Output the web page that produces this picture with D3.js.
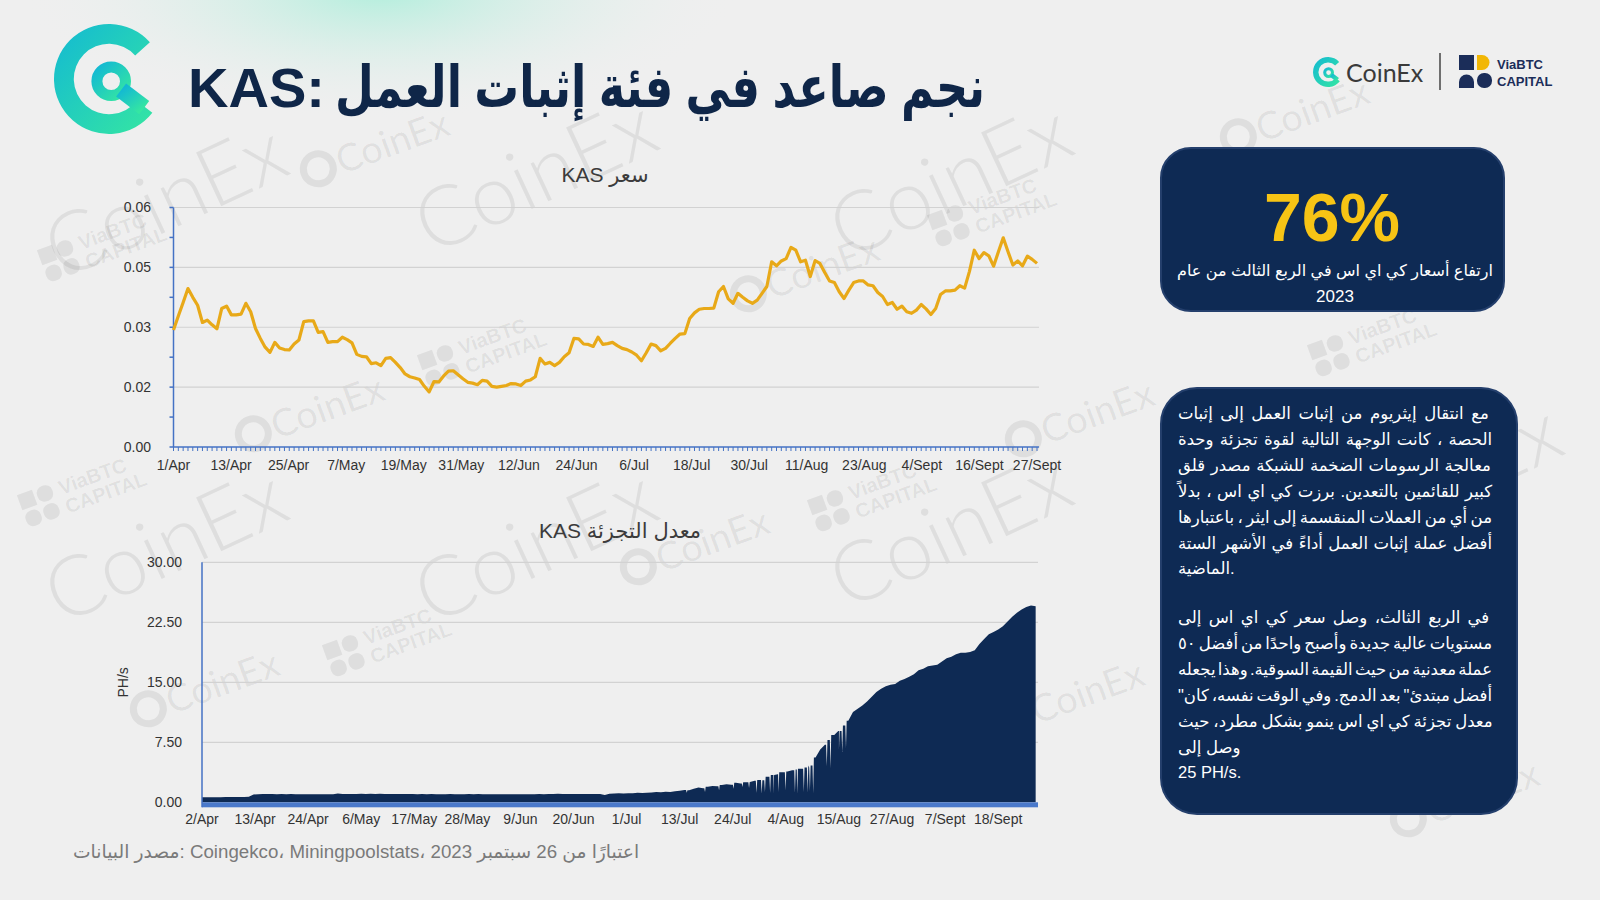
<!DOCTYPE html>
<html>
<head>
<meta charset="utf-8">
<script src="https://cdn.jsdelivr.net/npm/d3@7"></script>
<style>
html,body{margin:0;padding:0;background:#efefef;}
svg{display:block;}
text{font-family:"Liberation Sans",Arial,"DejaVu Sans",sans-serif;}
</style>
</head>
<body>
<div id="chart"></div>
<script>
// ---- data ----
var priceLabels = ["1/Apr","13/Apr","25/Apr","7/May","19/May","31/May","12/Jun","24/Jun","6/Jul","18/Jul","30/Jul","11/Aug","23/Aug","4/Sept","16/Sept","27/Sept"]
var priceTicks = [0, 0.015, 0.03, 0.045, 0.06]
var priceTickLabels = ["0.00","0.02","0.03","0.05","0.06"]
// KAS price, daily, 1/Apr .. 27/Sept
var kasPrice = [
	0.0293,0.0328,0.0362,0.0397,0.0375,0.0355,0.0312,0.0318,0.0306,0.0296,
	0.0347,0.0353,0.0331,0.0331,0.0333,0.0360,0.0339,0.0297,0.0272,0.0250,
	0.0237,0.0262,0.0248,0.0244,0.0243,0.0258,0.0268,0.0314,0.0316,0.0316,
	0.0287,0.0289,0.0262,0.0264,0.0264,0.0275,0.0269,0.0261,0.0232,0.0227,
	0.0226,0.0209,0.0211,0.0204,0.0222,0.0224,0.0212,0.0199,0.0183,0.0176,
	0.0173,0.0169,0.0152,0.0138,0.0164,0.0163,0.0178,0.0190,0.0191,0.0181,
	0.0171,0.0162,0.0160,0.0156,0.0167,0.0165,0.0152,0.0150,0.0152,0.0154,
	0.0159,0.0158,0.0154,0.0165,0.0168,0.0176,0.0222,0.0208,0.0212,0.0204,
	0.0212,0.0226,0.0236,0.0272,0.0271,0.0258,0.0257,0.0252,0.0275,0.0257,
	0.0259,0.0262,0.0254,0.0247,0.0244,0.0238,0.0230,0.0216,0.0236,0.0258,
	0.0254,0.0241,0.0247,0.0260,0.0272,0.0283,0.0284,0.0322,0.0336,0.0345,
	0.0347,0.0347,0.0348,0.0389,0.0402,0.0371,0.0360,0.0385,0.0375,0.0366,
	0.0360,0.0368,0.0385,0.0402,0.0464,0.0454,0.0466,0.0472,0.0500,0.0493,
	0.0464,0.0468,0.0427,0.0467,0.0460,0.0437,0.0416,0.0412,0.0389,0.0372,
	0.0393,0.0412,0.0416,0.0416,0.0406,0.0404,0.0387,0.0377,0.0357,0.0362,
	0.0345,0.0353,0.0339,0.0335,0.0343,0.0357,0.0346,0.0332,0.0347,0.0382,
	0.0391,0.0391,0.0393,0.0404,0.0398,0.0440,0.0493,0.0472,0.0487,0.0479,
	0.0453,0.0489,0.0524,0.0489,0.0456,0.0466,0.0454,0.0478,0.0470,0.0460
]

var hashLabels = ["2/Apr","13/Apr","24/Apr","6/May","17/May","28/May","9/Jun","20/Jun","1/Jul","13/Jul","24/Jul","4/Aug","15/Aug","27/Aug","7/Sept","18/Sept"]
var hashTicks = [0, 7.5, 15, 22.5, 30]
// KAS hashrate (PH/s), daily top of the area, from 2/Apr
var hashRate = [
	0.62,0.63,0.63,0.64,0.64,0.65,0.65,0.66,0.66,0.67,0.68,
	0.98,1.02,1.03,1.03,1.04,1.02,1.03,1.02,1.03,1.02,
	1.02,1.01,1.02,1.00,1.01,1.00,1.00,1.01,1.10,1.04,
	1.05,1.04,1.05,1.06,1.05,1.06,1.05,1.06,1.05,1.04,
	1.05,1.04,1.03,1.04,1.03,1.02,1.03,1.02,1.03,1.02,
	1.01,1.02,1.03,1.02,1.01,1.02,1.03,1.02,1.03,1.02,
	1.02,1.01,1.02,1.01,1.02,1.01,1.00,1.01,1.02,1.01,
	1.02,1.03,1.02,1.04,1.05,1.06,1.05,1.04,1.03,1.04,
	1.05,1.04,1.03,1.04,1.03,0.92,1.08,1.10,1.12,1.10,
	1.12,1.14,1.18,1.16,1.20,1.22,1.28,1.25,1.32,1.30,
	1.38,1.45,1.55,1.50,1.70,1.85,1.75,1.95,2.05,2.00,
	2.15,2.25,2.20,2.45,2.35,2.50,2.55,2.70,2.80,2.75,
	3.20,3.40,3.50,3.75,3.85,4.00,4.10,4.20,4.35,4.60,
	5.60,6.60,7.20,7.80,8.40,8.90,9.60,10.20,11.30,11.70,
	12.10,12.60,13.20,13.80,14.20,14.50,14.70,14.80,15.20,15.40,
	15.70,16.00,16.50,16.70,17.00,17.10,17.20,17.60,18.00,18.20,
	18.50,18.70,18.70,18.80,19.00,19.80,20.40,21.00,21.30,21.60,
	22.00,22.60,23.20,23.70,24.10,24.40,24.60,24.50
]
// short drops in the hashrate (day offset from 2/Apr, PH/s)
var hashDips = [
	[103.5,1.2],[107.4,1.3],[110.4,1.5],[113.5,1.7],[115.4,1.9],[116.8,1.8],
	[118.4,1.2],[119.5,1.1],[120.2,1.3],[121.3,1.2],[122.0,1.1],[123.1,1.3],
	[124.6,1.5],[126.6,1.2],[127.1,1.1],[128.5,1.3],[129.3,1.2],[129.8,1.4],
	[130.5,1.1],[133.4,4.5],[134.2,4.3],[136.0,6.6],[136.7,6.3],[137.5,6.8]
]

var bodyLines1 = [
	"مع انتقال إيثريوم من إثبات العمل  إلى إثبات",
	"الحصة ، كانت الوجهة التالية لقوة تجزئة وحدة",
	"معالجة الرسومات الضخمة للشبكة  مصدر قلق",
	"كبير للقائمين بالتعدين. برزت كي اي اس ، بدلاً",
	"من أي من العملات المنقسمة إلى ايثر ، باعتبارها",
	"أفضل عملة إثبات العمل أداءً في الأشهر الستة",
	"الماضية."
]
var bodyLines2 = [
	"في الربع الثالث، وصل سعر كي اي اس  إلى",
	"مستويات عالية جديدة وأصبح واحدًا من أفضل ٥٠",
	"عملة معدنية من حيث القيمة السوقية. وهذا يجعله",
	"\"أفضل مبتدئ\" بعد الدمج. وفي الوقت نفسه، كان",
	"معدل تجزئة كي اي اس  ينمو بشكل مطرد، حيث",
	"وصل إلى",
	"25 PH/s."
]

var W = 1600, H = 900
var NAVY = "#0e2a54", AXIS = "#4472c4", GRID = "#d2d2d2", GOLD = "#e8a918"

var svg = d3.select("#chart").append("svg")
	.attr("width", W)
	.attr("height", H)

var defs = svg.append("defs")
var glow = defs.append("radialGradient").attr("id","glow")
	.attr("cx","50%").attr("cy","50%").attr("r","50%")
glow.append("stop").attr("offset","0%").attr("stop-color","#aeeedb").attr("stop-opacity",0.95)
glow.append("stop").attr("offset","100%").attr("stop-color","#efefef").attr("stop-opacity",0)
var logoGrad = defs.append("linearGradient").attr("id","logoGrad")
	.attr("x1","0%").attr("y1","0%").attr("x2","100%").attr("y2","100%")
logoGrad.append("stop").attr("offset","0%").attr("stop-color","#13b9d3")
logoGrad.append("stop").attr("offset","100%").attr("stop-color","#35e6a2")

// background
svg.append("rect").attr("width",W).attr("height",H).attr("fill","#efefef")
svg.append("ellipse").attr("cx",380).attr("cy",-10).attr("rx",360).attr("ry",130).attr("fill","url(#glow)")

// watermarks
var bigMarks = [[165,200],[535,175],[950,180],[165,545],[535,545],[950,530],[1440,480]]
var smallMarks = [[370,150],[305,415],[690,548],[200,690],[800,275],[1290,118],[1075,420],[1065,700],[1460,800]]
var viaMarks = [[470,355],[90,250],[375,645],[860,500],[980,215],[1360,345],[70,495]]
var wm = svg.append("g").attr("fill","#000").attr("fill-opacity",0.07)
bigMarks.forEach(function(p){
	wm.append("text").attr("transform","translate("+p[0]+","+p[1]+") rotate(-25)")
		.attr("text-anchor","middle").attr("dy","0.35em")
		.style("font-family","Lato, 'Open Sans', sans-serif").style("font-weight",300)
		.style("font-size","84px").text("CoinEx")
})
smallMarks.forEach(function(p){
	var g = wm.append("g").attr("transform","translate("+p[0]+","+p[1]+") rotate(-20)")
	g.append("circle").attr("cx",-55).attr("cy",0).attr("r",15).attr("fill","none")
		.attr("stroke","#000").attr("stroke-opacity",0.07).attr("stroke-width",7)
	g.append("text").attr("x",-35).attr("dy","0.35em")
		.style("font-family","Lato, 'Open Sans', sans-serif").style("font-size","38px").text("CoinEx")
})
viaMarks.forEach(function(p){
	var g = wm.append("g").attr("transform","translate("+p[0]+","+p[1]+") rotate(-20)")
	g.append("rect").attr("x",-50).attr("y",-18).attr("width",16).attr("height",16)
	g.append("rect").attr("x",-31).attr("y",-18).attr("width",16).attr("height",16).attr("rx",7)
	g.append("rect").attr("x",-50).attr("y",1).attr("width",16).attr("height",16).attr("rx",7)
	g.append("rect").attr("x",-31).attr("y",1).attr("width",16).attr("height",16).attr("rx",7)
	g.append("text").attr("x",-8).attr("y",-3).style("font-size","20px").style("font-weight","bold").text("ViaBTC")
	g.append("text").attr("x",-8).attr("y",17).style("font-size","20px").style("font-weight","bold").text("CAPITAL")
})

// CoinEx mark
function coinexLogo(g, r) {
	var arc = d3.arc()
	g.append("path").attr("fill","url(#logoGrad)")
		.attr("d", arc({innerRadius:r*0.64, outerRadius:r, startAngle:128*Math.PI/180, endAngle:408*Math.PI/180}))
	g.append("circle").attr("cx",r*0.04).attr("cy",r*0.04).attr("r",r*0.26)
		.attr("fill","none").attr("stroke","url(#logoGrad)").attr("stroke-width",r*0.2)
	g.append("line").attr("x1",r*0.22).attr("y1",r*0.2).attr("x2",r*0.64).attr("y2",r*0.52)
		.attr("stroke","url(#logoGrad)").attr("stroke-width",r*0.3)
}
coinexLogo(svg.append("g").attr("transform","translate(109,79)"), 55)

// title: latin part, then the Arabic part fitted to the space up to x=985
var titleKas = svg.append("text")
	.attr("x",188).attr("y",107)
	.attr("fill","#0f2648")
	.style("font-size","56px").style("font-weight","bold")
	.text("KAS:")
var kasEnd = 188 + titleKas.node().getComputedTextLength()
var titleAr = svg.append("text")
	.attr("x",0).attr("y",0)
	.attr("fill","#0f2648")
	.style("font-size","58px").style("font-weight","bold")
	.text("نجم صاعد في فئة إثبات العمل")
var arBox = titleAr.node().getBBox()
var arLeft = kasEnd + 10
var arScale = (985 - arLeft)/arBox.width
titleAr.attr("transform","translate("+(arLeft - arBox.x*arScale)+",107) scale("+arScale+",1)")

// top right logos
coinexLogo(svg.append("g").attr("transform","translate(1328,72)"), 15)
svg.append("text").attr("x",1346).attr("y",82).attr("fill","#3a3a3a")
	.style("font-family","Lato, 'Open Sans', sans-serif").style("font-size","25px").text("CoinEx")
svg.append("line").attr("x1",1440).attr("x2",1440).attr("y1",53).attr("y2",90)
	.attr("stroke","#444").attr("stroke-width",1.5)
var via = svg.append("g").attr("transform","translate(1459,55)")
via.append("rect").attr("width",15).attr("height",15).attr("fill","#1b2d59")
via.append("path").attr("d","M18,0 h5 a7.5,7.5 0 0 1 0,15 h-5 Z").attr("fill","#f2b705")
via.append("path").attr("d","M0,33 v-6 a7.5,7.5 0 0 1 15,0 v6 Z").attr("fill","#1b2d59")
via.append("rect").attr("x",18).attr("y",18).attr("width",15).attr("height",15).attr("rx",7).attr("fill","#1b2d59")
svg.append("text").attr("x",1497).attr("y",69).attr("fill","#1b2d59")
	.style("font-size","13px").style("font-weight","bold").text("ViaBTC")
svg.append("text").attr("x",1497).attr("y",86).attr("fill","#1b2d59")
	.style("font-size","13px").style("font-weight","bold").text("CAPITAL")

// ---- price chart ----
var px = d3.scaleLinear().domain([0, kasPrice.length-1]).range([173.5, 1037])
var py = d3.scaleLinear().domain([0, 0.06]).range([447, 207.5])
var pc = svg.append("g")

pc.append("text").attr("x",605).attr("y",182).attr("text-anchor","middle")
	.attr("fill","#3b3b3b").style("font-size","21px").text("KAS سعر")

pc.selectAll(".pgrid").data(priceTicks.slice(1)).enter().append("line")
	.attr("x1",px(0)).attr("x2",1039)
	.attr("y1",function(d){ return py(d) }).attr("y2",function(d){ return py(d) })
	.attr("stroke",GRID).attr("stroke-width",1.2)

pc.selectAll(".plab").data(priceTicks).enter().append("text")
	.attr("x",151).attr("y",function(d){ return py(d) }).attr("dy","0.35em")
	.attr("text-anchor","end").attr("fill","#333").style("font-size","14px")
	.text(function(d,i){ return priceTickLabels[i] })

// minor + major ticks on the left axis
var yTickVals = d3.range(0, 9).map(function(i){ return i*0.0075 })
pc.selectAll(".ptick").data(yTickVals).enter().append("line")
	.attr("x1",px(0)-4).attr("x2",px(0))
	.attr("y1",function(d){ return py(d) }).attr("y2",function(d){ return py(d) })
	.attr("stroke",AXIS).attr("stroke-width",1.5)
pc.append("line").attr("x1",px(0)).attr("x2",px(0)).attr("y1",py(0.06)).attr("y2",py(0))
	.attr("stroke",AXIS).attr("stroke-width",1.5)

// daily ticks on the bottom axis
pc.selectAll(".xtick").data(kasPrice).enter().append("line")
	.attr("x1",function(d,i){ return px(i) }).attr("x2",function(d,i){ return px(i) })
	.attr("y1",py(0)).attr("y2",py(0)+4)
	.attr("stroke",AXIS).attr("stroke-width",1)
pc.append("line").attr("x1",px(0)).attr("x2",1039).attr("y1",py(0)).attr("y2",py(0))
	.attr("stroke",AXIS).attr("stroke-width",1.5)

var labStep = (kasPrice.length-1)/(priceLabels.length-1)
pc.selectAll(".pxl").data(priceLabels).enter().append("text")
	.attr("x",function(d,i){ return px(i*labStep) }).attr("y",470)
	.attr("text-anchor","middle").attr("fill","#333").style("font-size","14px")
	.text(function(d){ return d })

pc.append("path").datum(kasPrice)
	.attr("fill","none").attr("stroke",GOLD).attr("stroke-width",3.2)
	.attr("stroke-linejoin","round")
	.attr("d", d3.line().x(function(d,i){ return px(i) }).y(function(d){ return py(d) }))

// ---- hashrate chart ----
var hx = d3.scaleLinear().domain([0, 178.5]).range([202, 1038])
var hy = d3.scaleLinear().domain([0, 30]).range([802.3, 562.3])
var hc = svg.append("g")

hc.append("text").attr("x",620).attr("y",538).attr("text-anchor","middle")
	.attr("fill","#3b3b3b").style("font-size","21px").text("KAS معدل التجزئة")

hc.selectAll(".hgrid").data(hashTicks.slice(1)).enter().append("line")
	.attr("x1",hx(0)).attr("x2",1038)
	.attr("y1",function(d){ return hy(d) }).attr("y2",function(d){ return hy(d) })
	.attr("stroke",GRID).attr("stroke-width",1.2)

hc.selectAll(".hlab").data(hashTicks).enter().append("text")
	.attr("x",182).attr("y",function(d){ return hy(d) }).attr("dy","0.35em")
	.attr("text-anchor","end").attr("fill","#333").style("font-size","14px")
	.text(function(d){ return d3.format(".2f")(d) })

hc.append("text").attr("transform","translate(128,"+hy(15)+") rotate(-90)")
	.attr("text-anchor","middle").attr("fill","#333").style("font-size","14px").text("PH/s")

// merge daily values with the short drops
var hashPts = hashRate.map(function(v,i){ return [i, v] })
hashDips.forEach(function(d){
	var lo = Math.floor(d[0]), hi = Math.ceil(d[0])
	hashPts.push([d[0]-0.15, hashRate[lo]])
	hashPts.push([d[0], d[1]])
	hashPts.push([d[0]+0.15, hashRate[hi]])
})
hashPts.sort(function(a,b){ return a[0]-b[0] })

hc.append("path").datum(hashPts)
	.attr("fill",NAVY)
	.attr("d", d3.area()
		.x(function(d){ return hx(d[0]) })
		.y0(hy(0))
		.y1(function(d){ return hy(d[1]) }))

hc.append("rect").attr("x",hx(0)).attr("y",hy(0)).attr("width",1038-hx(0)).attr("height",5)
	.attr("fill","#4a79cb")
hc.append("line").attr("x1",hx(0)).attr("x2",hx(0)).attr("y1",hy(30)).attr("y2",hy(0)+5)
	.attr("stroke",AXIS).attr("stroke-width",1.5)

var hStep = 68*4/24 // one label every 68 four-hour samples
hc.selectAll(".hxl").data(hashLabels).enter().append("text")
	.attr("x",function(d,i){ return hx(i*hStep) }).attr("y",824)
	.attr("text-anchor","middle").attr("fill","#333").style("font-size","14px")
	.text(function(d){ return d })

// footer
svg.append("text").attr("x",73).attr("y",858).attr("fill","#7a7a7a").style("font-size","18.7px")
	.text("مصدر البيانات: Coingekco، Miningpoolstats، 2023 اعتبارًا من 26 سبتمبر")

// ---- side boxes ----
svg.append("rect").attr("x",1161).attr("y",148).attr("width",343).attr("height",163).attr("rx",30)
	.attr("fill",NAVY).attr("stroke","#243f6c").attr("stroke-width",2)
svg.append("text").attr("x",1332).attr("y",241).attr("text-anchor","middle")
	.attr("fill","#f7c415").style("font-size","68px").style("font-weight","bold").text("76%")
svg.append("text").attr("x",1335).attr("y",276).attr("text-anchor","middle")
	.attr("fill","#fff").style("font-size","16px").text("ارتفاع أسعار كي اي اس في الربع الثالث من عام")
svg.append("text").attr("x",1335).attr("y",302).attr("text-anchor","middle")
	.attr("fill","#fff").style("font-size","17px").text("2023")

svg.append("rect").attr("x",1161).attr("y",388).attr("width",356).attr("height",426).attr("rx",36)
	.attr("fill",NAVY).attr("stroke","#243f6c").attr("stroke-width",2)

var textLeft = 1178, textWidth = 314, lineH = 25.9
function bodyBlock(lines, y0) {
	lines.forEach(function(s, i){
		var t = svg.append("text").attr("x",textLeft).attr("y",y0 + i*lineH)
			.attr("fill","#fff").style("font-size","16.5px").text(s)
		var isLast = (i >= lines.length - 1) || s.length < 12
		if (!isLast) {
			var len = t.node().getComputedTextLength()
			var n = (s.match(/ /g) || []).length
			if (n > 0) t.attr("word-spacing", (textWidth - len)/n)
		}
	})
}
bodyBlock(bodyLines1, 419)
bodyBlock(bodyLines2, 623)
</script>
</body>
</html>
